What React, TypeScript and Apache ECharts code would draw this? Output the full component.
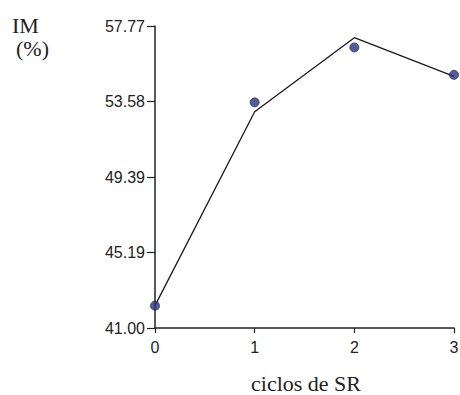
import React, { useEffect, useRef } from "react";
import * as echarts from "echarts";

const cycles = [0, 1, 2, 3];
const pointValues = [42.24, 53.53, 56.58, 55.06];
const lineValues = [42.24, 53.01, 57.12, 54.97];
const yTickLabels = ["41.00", "45.19", "49.39", "53.58", "57.77"];
const xTickLabels = ["0", "1", "2", "3"];
const yMin = 41.0;
const yMax = 57.77;

const serif = '"Liberation Serif", "DejaVu Serif", serif';

export default function App() {
  const ref = useRef<HTMLDivElement>(null);
  useEffect(() => {
    if (!ref.current) return;
    const chart = echarts.init(ref.current, undefined, { renderer: "svg" });
    const axisColor = "#222";
    const labelFont = {
      fontFamily: '"Liberation Sans", Arial, sans-serif',
      fontSize: 16,
      color: "#222",
    };
    const serifText = (x: number, y: number, text: string, align: string) => ({
      type: "text",
      style: {
        x,
        y,
        text,
        fontFamily: serif,
        fontSize: 22,
        fill: "#222",
        align,
        verticalAlign: "middle",
      },
    });
    chart.setOption({
      animation: false,
      backgroundColor: "#fff",
      grid: {
        left: 155,
        right: 6,
        top: 26,
        bottom: 67,
        containLabel: false,
        outerBoundsMode: "none",
      },
      xAxis: {
        type: "value",
        min: 0,
        max: 3,
        interval: 1,
        splitLine: { show: false },
        axisLine: { show: true, lineStyle: { color: axisColor, width: 1.5 } },
        axisTick: { show: true, length: 5, lineStyle: { color: axisColor, width: 1.2 } },
        axisLabel: {
          ...labelFont,
          margin: 11,
          formatter: (v: number) => xTickLabels[Math.round(v)] ?? "",
        },
      },
      yAxis: [
        {
          type: "value",
          min: yMin,
          max: yMax,
          show: false,
          splitLine: { show: false },
        },
        {
          type: "value",
          min: 0,
          max: yTickLabels.length - 1,
          interval: 1,
          position: "left",
          splitLine: { show: false },
          axisLine: { show: true, lineStyle: { color: axisColor, width: 1.5 } },
          axisTick: { show: true, length: 8, lineStyle: { color: axisColor, width: 1.2 } },
          axisLabel: {
            ...labelFont,
            margin: 10,
            formatter: (v: number) => yTickLabels[Math.round(v)] ?? "",
          },
        },
      ],
      series: [
        {
          type: "line",
          yAxisIndex: 0,
          data: cycles.map((c, i) => [c, lineValues[i]]),
          showSymbol: false,
          symbol: "none",
          lineStyle: { color: "#1a1a1a", width: 1.3 },
          z: 2,
        },
        {
          type: "scatter",
          yAxisIndex: 0,
          data: cycles.map((c, i) => [c, pointValues[i]]),
          symbol: "circle",
          symbolSize: 9,
          itemStyle: { color: "#27338c", borderColor: "#333340", borderWidth: 1 },
          z: 3,
        },
      ],
      graphic: [
        serifText(12, 25, "IM", "left"),
        serifText(16, 48, "(%)", "left"),
        serifText(306, 383, "ciclos de SR", "center"),
      ],
    });
    return () => chart.dispose();
  }, []);
  return (
    <div
      ref={ref}
      style={{ position: "fixed", left: 0, top: 0, width: 460, height: 395 }}
    />
  );
}
